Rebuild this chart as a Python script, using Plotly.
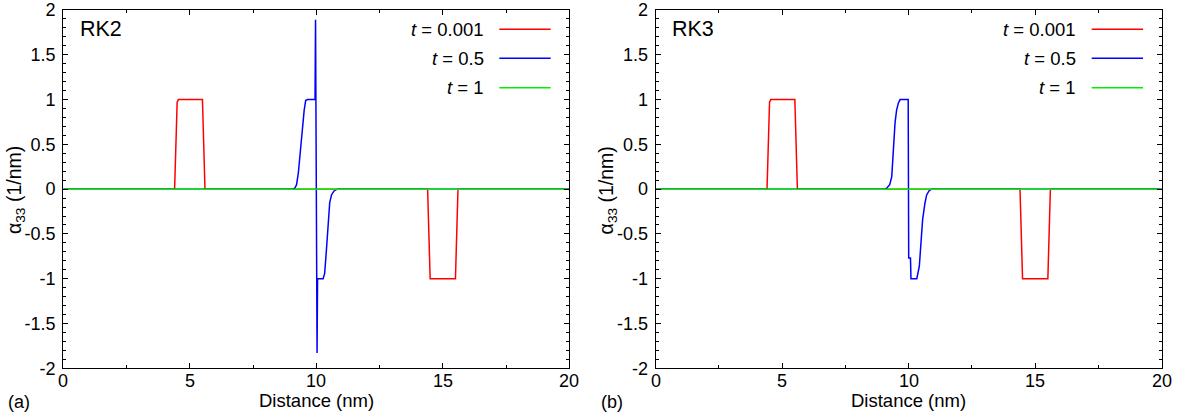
import plotly.graph_objects as go

W, H = 1177, 412

# ---------------- data ----------------
series_names = ["<i>t</i> = 0.001", "<i>t</i> = 0.5", "<i>t</i> = 1"]
series_colors = ["#ff0000", "#0000ff", "#00ee00"]
panel_labels = ["RK2", "RK3"]
panel_tags = ["(a)", "(b)"]

# t = 0.001 (same for both schemes)
x_red = [0, 4.4, 4.5, 4.55, 5.5, 5.6, 14.4, 14.5, 15.5, 15.6, 20]
y_red = [0, 0, 0.97, 1.0, 1.0, 0, 0, -1.0, -1.0, 0, 0]

# t = 0.5, RK2
x_blue_rk2 = [0, 9.05, 9.15, 9.22, 9.29, 9.38, 9.45, 9.52, 9.58, 9.65, 9.95, 9.97,
              10.03, 10.05, 10.27, 10.33, 10.40, 10.47, 10.53, 10.60, 10.70, 10.83, 20]
y_blue_rk2 = [0, 0, 0.01, 0.05, 0.18, 0.44, 0.70, 0.88, 0.99, 1.0, 1.0, 1.89,
              -1.83, -1.0, -1.0, -0.94, -0.68, -0.38, -0.15, -0.065, -0.02, 0, 0]

# t = 0.5, RK3
x_blue_rk3 = [0, 9.05, 9.13, 9.25, 9.33, 9.39, 9.46, 9.52, 9.59, 9.66, 9.98, 10.0,
              10.07, 10.09, 10.32, 10.42, 10.48, 10.55, 10.64, 10.71, 10.80, 10.9, 20]
y_blue_rk3 = [0, 0, 0.01, 0.05, 0.14, 0.47, 0.74, 0.88, 0.96, 1.0, 1.0, -0.77,
              -0.77, -1.0, -1.0, -0.86, -0.57, -0.34, -0.16, -0.065, -0.02, 0, 0]

# t = 1
x_green = [0, 20]
y_green = [0, 0]

x_ticks = [0, 5, 10, 15, 20]
x_tick_text = ["0", "5", "10", "15", "20"]
y_ticks = [-2, -1.5, -1, -0.5, 0, 0.5, 1, 1.5, 2]
y_tick_text = ["-2", "-1.5", "-1", "-0.5", "0", "0.5", "1", "1.5", "2"]

x_title = "Distance (nm)"
y_title = "α<sub>33</sub> (1/nm)"

# ---------------- layout geometry (pixels) ----------------
plot_left = [63.3, 655.7]
plot_w = 506.0
plot_top, plot_bot = 10.0, 368.3
FONT = "Liberation Sans, Arial, Helvetica, sans-serif"
TICK_FS = 18
LEG_FS = 18.5
TITLE_FS = 18.5
RK_FS = 21.5

fig = go.Figure()

panels = [
    (x_red, y_red, x_blue_rk2, y_blue_rk2),
    (x_red, y_red, x_blue_rk3, y_blue_rk3),
]

for i, (xr, yr, xb, yb) in enumerate(panels):
    xa = "x" if i == 0 else "x2"
    ya = "y" if i == 0 else "y2"
    for xs, ys, name, col in [(xr, yr, series_names[0], series_colors[0]),
                              (xb, yb, series_names[1], series_colors[1]),
                              (x_green, y_green, series_names[2], series_colors[2])]:
        fig.add_trace(go.Scatter(x=xs, y=ys, mode="lines", name=name,
                                 line=dict(color=col, width=1.5),
                                 xaxis=xa, yaxis=ya, showlegend=False,
                                 hoverinfo="skip"))

ydom = [1 - plot_bot / H, 1 - plot_top / H]
axis_common = dict(showline=True, linecolor="black", linewidth=1.3, mirror="allticks",
                   ticks="inside", ticklen=5, tickwidth=1, tickcolor="black",
                   showgrid=False, zeroline=False, automargin=False,
                   tickfont=dict(family=FONT, size=TICK_FS, color="black"))

for i in range(2):
    dom = [plot_left[i] / W, (plot_left[i] + plot_w) / W]
    xkey = "xaxis" if i == 0 else "xaxis2"
    ykey = "yaxis" if i == 0 else "yaxis2"
    fig.update_layout(**{
        xkey: dict(domain=dom, range=[0, 20], tickvals=x_ticks, showticklabels=False,
                   minor=dict(dtick=2.5, ticks="inside", ticklen=3, tickcolor="black"),
                   anchor="y" if i == 0 else "y2", **axis_common),
        ykey: dict(domain=ydom, range=[-2, 2], tickvals=y_ticks, ticktext=y_tick_text,
                   minor=dict(dtick=0.1, ticks="inside", ticklen=3, tickcolor="black"),
                   anchor="x" if i == 0 else "x2", ticklabelstandoff=3, **axis_common),
    })

annotations = []
shapes = []
legend_y = [29.3, 58.3, 87.7]
for i in range(2):
    off = plot_left[i] - plot_left[0]
    xref = "x" if i == 0 else "x2"
    # x tick labels, placed through the x axis scale
    for tv, tt in zip(x_ticks, x_tick_text):
        annotations.append(dict(text=tt, x=tv, xref=xref, y=1 - 380.5 / H, yref="paper",
                                xanchor="center", yanchor="middle", showarrow=False,
                                borderpad=0,
                                font=dict(family=FONT, size=TICK_FS, color="black")))
    annotations.append(dict(text=panel_labels[i], x=(78 + off) / W, y=1 - 28.5 / H,
                            xref="paper", yref="paper", xanchor="left", yanchor="middle",
                            showarrow=False, font=dict(family=FONT, size=RK_FS, color="black")))
    annotations.append(dict(text=panel_tags[i], x=(19 if i == 0 else 612) / W,
                            y=1 - 402 / H, xref="paper", yref="paper",
                            xanchor="center", yanchor="middle", showarrow=False,
                            borderpad=0,
                            font=dict(family=FONT, size=TICK_FS, color="black")))
    annotations.append(dict(text=x_title, x=(plot_left[i] + plot_w / 2) / W, y=0,
                            xref="paper", yref="paper", xanchor="center", yanchor="bottom",
                            showarrow=False, borderpad=0,
                            font=dict(family=FONT, size=TITLE_FS, color="black")))
    annotations.append(dict(text=y_title, x=(15 + off) / W, y=1 - 190 / H, textangle=-90,
                            xref="paper", yref="paper", xanchor="center", yanchor="middle",
                            showarrow=False, font=dict(family=FONT, size=19.5, color="black")))
    for k in range(3):
        annotations.append(dict(text=series_names[k], x=(486 + off) / W, y=1 - legend_y[k] / H,
                                xref="paper", yref="paper", xanchor="right", yanchor="middle",
                                showarrow=False, font=dict(family=FONT, size=LEG_FS, color="black")))
        shapes.append(dict(type="line", xref="paper", yref="paper",
                           x0=(499.3 + off) / W, x1=(550.7 + off) / W,
                           y0=1 - legend_y[k] / H, y1=1 - legend_y[k] / H,
                           line=dict(color=series_colors[k], width=1.5)))

fig.update_layout(width=W, height=H, margin=dict(l=0, r=0, t=0, b=0, pad=0),
                  plot_bgcolor="white", paper_bgcolor="white",
                  annotations=annotations, shapes=shapes, showlegend=False,
                  font=dict(family=FONT, color="black"))

fig.write_html("out.html", config={"displayModeBar": False},
               post_script="document.body.style.margin='0';document.body.style.padding='0';")
